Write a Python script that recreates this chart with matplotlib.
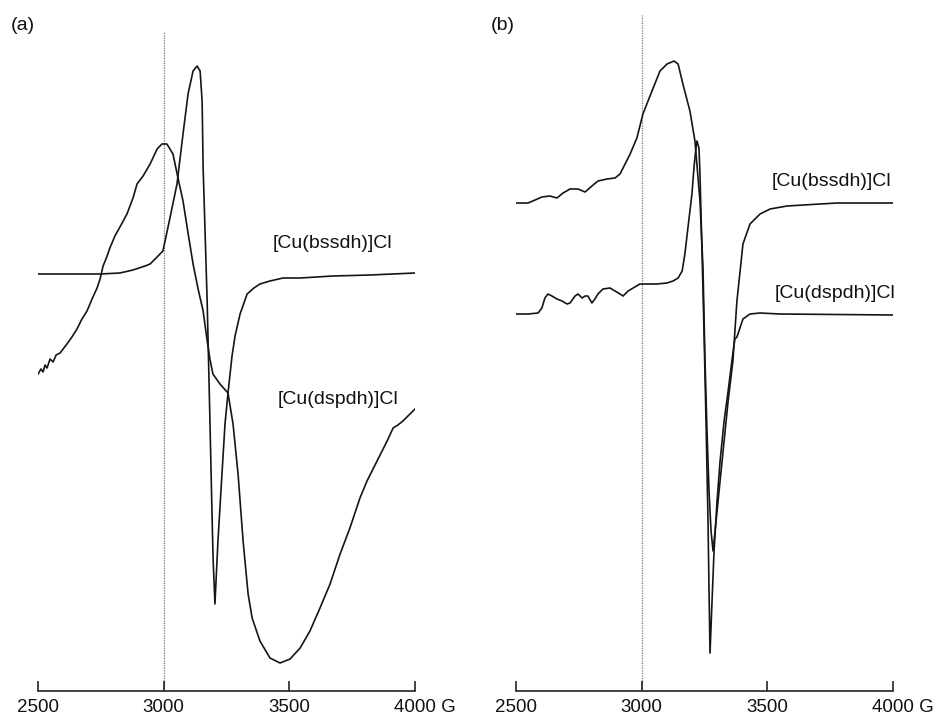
import matplotlib
matplotlib.use("Agg")
import matplotlib.pyplot as plt
from matplotlib.transforms import ScaledTranslation

plt.rcParams['font.family'] = ['Liberation Sans', 'DejaVu Sans']

# ---------------- data (field in G, intensity in arbitrary units) ----------------
# Panel (a)
bssdh_a_G = [2500, 2747, 2826, 2878, 2926, 2946, 2966, 2997, 3025, 3053,
             3077, 3097, 3117, 3133, 3145, 3153, 3157, 3165, 3173, 3177,
             3185, 3193, 3197, 3204, 3216, 3232, 3244, 3256, 3272, 3284,
             3304, 3332, 3359, 3383, 3423, 3475, 3543, 3674, 3821, 4000]
bssdh_a_I = [417, 417, 418, 421, 425, 427, 432, 440, 473, 507,
             557, 597, 620, 625, 620, 590, 523, 457, 390, 347,
             260, 170, 130, 87, 150, 217, 267, 298, 335, 355,
             377, 397, 403, 407, 410, 413, 413, 415, 416, 418]

dspdh_a_G = [2500, 2512, 2520, 2528, 2536, 2548, 2560, 2572, 2588, 2603,
             2615, 2635, 2655, 2675, 2695, 2715, 2735, 2747, 2759, 2775,
             2786, 2806, 2826, 2854, 2878, 2894, 2918, 2946, 2974, 2993,
             3013, 3037, 3057, 3077, 3097, 3117, 3137, 3157, 3172, 3184,
             3196, 3224, 3256, 3276, 3296, 3316, 3336, 3352, 3383, 3423,
             3463, 3503, 3543, 3582, 3622, 3662, 3702, 3741, 3781, 3809,
             3849, 3889, 3913, 3932, 3952, 3976, 4000]
dspdh_a_I = [317, 322, 319, 326, 323, 332, 329, 336, 338, 343,
             347, 354, 362, 372, 380, 392, 403, 412, 425, 435,
             443, 455, 464, 477, 493, 507, 515, 527, 542, 547,
             547, 537, 513, 490, 458, 427, 402, 380, 352, 332,
             317, 307, 298, 267, 217, 150, 97, 73, 50, 33,
             28, 32, 43, 60, 83, 107, 137, 163, 193, 210,
             230, 250, 263, 266, 270, 276, 282]

# Panel (b)
bssdh_b_G = [2500, 2548, 2576, 2603, 2635, 2663, 2687, 2715, 2747, 2775,
             2802, 2826, 2862, 2894, 2914, 2934, 2954, 2981, 3005, 3041,
             3073, 3101, 3129, 3145, 3164, 3192, 3212, 3232, 3244, 3252,
             3260, 3268, 3276, 3284, 3296, 3312, 3328, 3344, 3363, 3379,
             3403, 3431, 3471, 3511, 3578, 3777, 4000]
bssdh_b_I = [488, 488, 491, 494, 495, 493, 498, 502, 502, 499,
             505, 510, 512, 513, 517, 527, 537, 553, 577, 600,
             620, 627, 630, 627, 607, 580, 550, 490, 423, 330,
             260, 200, 160, 140, 170, 210, 250, 290, 330, 390,
             447, 467, 477, 482, 485, 488, 488]

dspdh_b_G = [2500, 2548, 2588, 2603, 2615, 2627, 2643, 2663, 2683, 2703,
             2715, 2735, 2747, 2763, 2775, 2786, 2802, 2814, 2826, 2846,
             2874, 2894, 2914, 2926, 2946, 2966, 2993, 3025, 3061, 3101,
             3125, 3145, 3161, 3172, 3184, 3200, 3208, 3216, 3220, 3228,
             3232, 3240, 3248, 3256, 3264, 3268, 3272, 3280, 3288, 3300,
             3312, 3328, 3344, 3363, 3371, 3379, 3387, 3403, 3431, 3471,
             3550, 4000]
dspdh_b_I = [377, 377, 378, 383, 393, 397, 395, 392, 390, 387,
             388, 395, 397, 393, 395, 395, 388, 392, 397, 402,
             403, 400, 397, 395, 400, 403, 407, 407, 407, 408,
             410, 413, 420, 437, 463, 497, 523, 543, 550, 543,
             517, 440, 360, 270, 170, 100, 38, 90, 140, 190,
             230, 270, 300, 338, 352, 354, 360, 372, 377, 378,
             377, 376]

tick_values = [2500, 3000, 3500, 4000]
tick_labels = ["2500", "3000", "3500", "4000 G"]
ref_field = 3000
label_bssdh = "[Cu(bssdh)]Cl"
label_dspdh = "[Cu(dspdh)]Cl"

# ---------------- figure ----------------
W, H = 938, 717
fig = plt.figure(figsize=(W / 100, H / 100), dpi=100)

axis_y = 691
top_y = 10
ax_a = fig.add_axes([38 / W, 1 - axis_y / H, 377 / W, (axis_y - top_y) / H])
ax_b = fig.add_axes([516 / W, 1 - axis_y / H, 377 / W, (axis_y - top_y) / H])

line_kw = dict(color='#151515', lw=1.2, solid_joinstyle='round')

panels = [
    (ax_a, bssdh_a_G, bssdh_a_I, dspdh_a_G, dspdh_a_I, 659,
     (3435, 447), (3455, 292)),
    (ax_b, bssdh_b_G, bssdh_b_I, dspdh_b_G, dspdh_b_I, 676,
     (3519, 510), (3531, 397)),
]

for ax, bg, bi, dg, di, ref_top, pos_b, pos_d in panels:
    ax.vlines(ref_field, 0, ref_top, colors='#777777', lw=0.9,
              linestyles=(0, (1, 1)), zorder=1)
    ax.plot(bg, bi, **line_kw, zorder=3)
    ax.plot(dg, di, **line_kw, zorder=3)
    ax.set_xlim(2500, 4000)
    ax.set_ylim(0, axis_y - top_y)
    for s in ['top', 'left', 'right']:
        ax.spines[s].set_visible(False)
    ax.spines['bottom'].set_linewidth(1.2)
    ax.spines['bottom'].set_color('#222222')
    ax.set_yticks([])
    ax.set_xticks(tick_values)
    ax.set_xticklabels(tick_labels, fontsize=13.5)
    ax.tick_params(axis='x', direction='in', length=7, width=1.2,
                   color='#222222', pad=6, labelcolor='#111111')
    last = ax.get_xticklabels()[-1]
    last.set_ha('left')
    last.set_transform(last.get_transform() +
                       ScaledTranslation(-21 / 100, 0, fig.dpi_scale_trans))
    ax.text(pos_b[0], pos_b[1], label_bssdh, fontsize=14, ha='left',
            va='center', color='#111111')
    ax.text(pos_d[0], pos_d[1], label_dspdh, fontsize=14, ha='left',
            va='center', color='#111111')
    ax.patch.set_alpha(0)

fig.text(11 / W, 1 - 25 / H, "(a)", fontsize=14, ha='left', va='center',
         color='#111111')
fig.text(491 / W, 1 - 25 / H, "(b)", fontsize=14, ha='left', va='center',
         color='#111111')

fig.savefig("out.png", dpi=100)
